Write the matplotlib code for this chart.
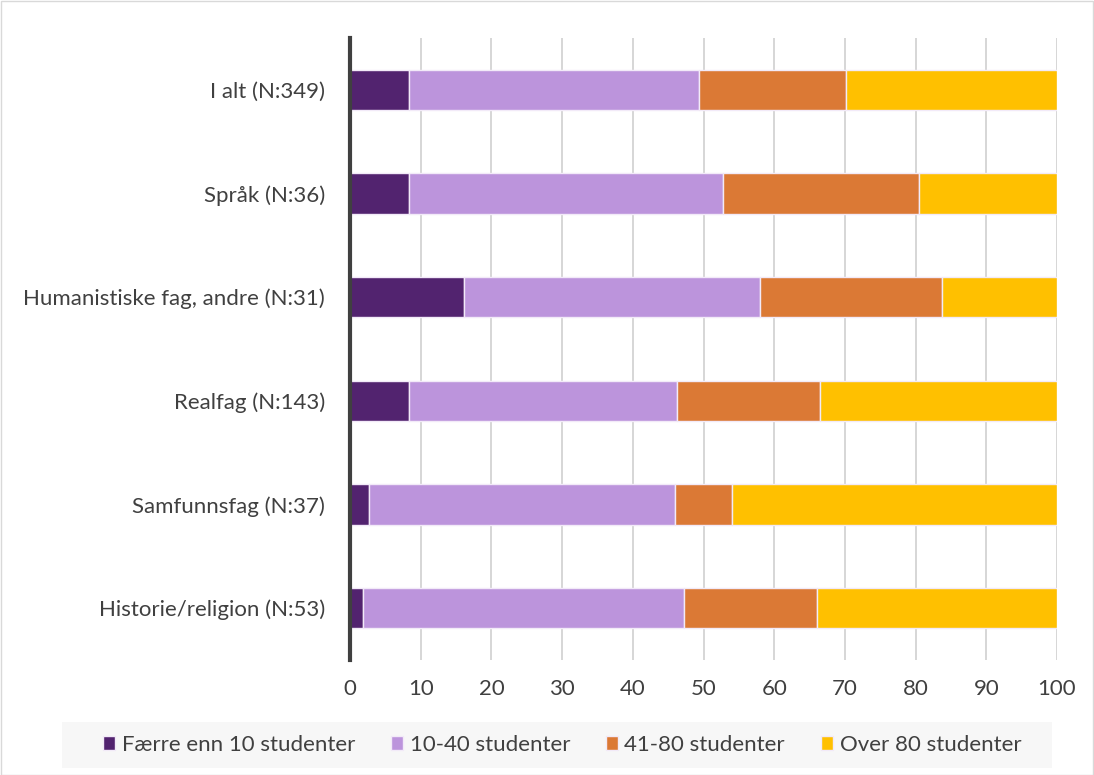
import numpy as np
import matplotlib.pyplot as plt
from matplotlib.patches import Rectangle

plt.rcParams['font.family'] = ['Lato', 'DejaVu Sans']

categories = ["I alt (N:349)", "Språk (N:36)", "Humanistiske fag, andre (N:31)",
              "Realfag (N:143)", "Samfunnsfag (N:37)", "Historie/religion (N:53)"]
series_names = ["Færre enn 10 studenter", "10-40 studenter", "41-80 studenter", "Over 80 studenter"]
faerre_10 = [8.3, 8.3, 16.1, 8.4, 2.7, 1.9]
s10_40 = [41.0, 44.4, 41.9, 37.8, 43.2, 45.3]
s41_80 = [20.9, 27.8, 25.8, 20.3, 8.1, 18.9]
over_80 = [29.8, 19.5, 16.2, 33.5, 46.0, 33.9]
colors = ["#52236F", "#BC94DC", "#DB7935", "#FFC000"]

fig = plt.figure(figsize=(10.94, 7.75), dpi=100)
ax = fig.add_axes([350 / 1094, 1 - 660 / 775, 707 / 1094, 622 / 775])

y = np.arange(len(categories))[::-1]
left = np.zeros(len(categories))
for vals, name, c in zip([faerre_10, s10_40, s41_80, over_80], series_names, colors):
    ax.barh(y, vals, left=left, height=0.39, color=c, edgecolor="#F2EAF8",
            linewidth=1.0, label=name, zorder=3)
    left += np.array(vals)

ax.set_xlim(0, 100)
ax.set_ylim(-0.5, len(categories) - 0.5)
ax.set_xticks(np.arange(0, 101, 10))
ax.set_yticks(y)
ax.set_yticklabels(categories)
ax.tick_params(axis="both", length=0, labelsize=16, colors="#404040")
ax.tick_params(axis="y", pad=18)
ax.tick_params(axis="x", pad=14)
ax.grid(axis="x", color="#D0D0D0", linewidth=1.2, zorder=0)
for s in ["top", "right", "bottom"]:
    ax.spines[s].set_visible(False)
ax.spines["left"].set_color("#404040")
ax.spines["left"].set_linewidth(3)
ax.spines["left"].set_zorder(5)

# legend background strip
fig.patches.append(Rectangle((62 / 1094, 1 - 768 / 775), 990 / 1094, 46 / 775,
                             transform=fig.transFigure, facecolor="#F7F7F7",
                             edgecolor="none", zorder=0))
leg = fig.legend(loc="center", bbox_to_anchor=(562 / 1094, 1 - 745 / 775), ncol=4,
                 frameon=False, fontsize=16, handlelength=0.55, handleheight=0.6,
                 handletextpad=0.3, columnspacing=1.6)
for t in leg.get_texts():
    t.set_color("#404040")

# chart border
fig.patches.append(Rectangle((0.5 / 1094, 0.5 / 775), 1 - 1.5 / 1094, 1 - 1.5 / 775,
                             transform=fig.transFigure, facecolor="none",
                             edgecolor="#D9D9D9", linewidth=1))

fig.savefig("out.png", dpi=100)
